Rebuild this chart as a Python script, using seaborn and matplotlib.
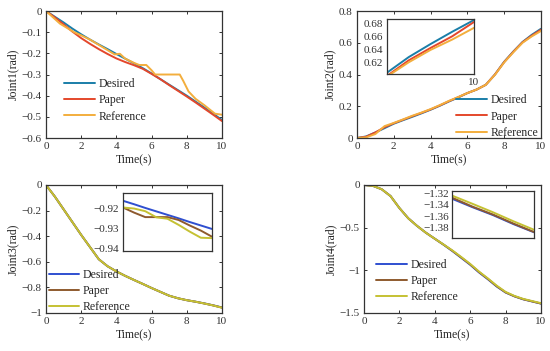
import numpy as np
import matplotlib
matplotlib.use("Agg")
import matplotlib.pyplot as plt
import seaborn as sns

# time grid shared by most series
t = [0, 0.5, 1, 1.5, 2, 2.5, 3, 3.5, 4, 4.5, 5, 5.5, 6, 6.5, 7, 7.5, 8, 8.5, 9, 9.5, 10]

# Joint1
j1_desired = [0, -0.027, -0.054, -0.083, -0.11, -0.135, -0.158, -0.18, -0.203, -0.225, -0.247,
              -0.27, -0.295, -0.322, -0.348, -0.374, -0.4, -0.428, -0.456, -0.485, -0.515]
j1_paper = [0, -0.03, -0.063, -0.097, -0.128, -0.155, -0.18, -0.203, -0.224, -0.241, -0.256,
            -0.273, -0.297, -0.322, -0.35, -0.377, -0.404, -0.432, -0.461, -0.49, -0.52]
t_j1_ref = [0, 0.4, 0.8, 1.2, 1.6, 2.0, 2.5, 3.0, 3.5, 3.9, 4.2, 4.5, 5.0, 5.3, 5.7, 6.0, 6.2,
            7.0, 7.6, 7.8, 8.1, 8.5, 9.0, 9.3, 9.6, 10]
j1_reference = [0, -0.03, -0.06, -0.08, -0.1, -0.115, -0.135, -0.16, -0.185, -0.205, -0.202,
                -0.225, -0.245, -0.255, -0.255, -0.28, -0.3, -0.3, -0.3, -0.33, -0.38, -0.415,
                -0.445, -0.465, -0.485, -0.49]

# Joint2
j2_desired = [0, 0.01, 0.035, 0.062, 0.09, 0.112, 0.133, 0.155, 0.178, 0.203, 0.23,
              0.255, 0.283, 0.305, 0.335, 0.4, 0.48, 0.545, 0.605, 0.65, 0.688]
j2_paper = [0, 0.008, 0.035, 0.068, 0.093, 0.115, 0.137, 0.158, 0.18, 0.205, 0.232,
            0.257, 0.283, 0.305, 0.335, 0.4, 0.478, 0.543, 0.603, 0.645, 0.682]
j2_reference = [0, 0.004, 0.025, 0.075, 0.095, 0.117, 0.14, 0.16, 0.182, 0.207, 0.234,
                0.258, 0.283, 0.305, 0.335, 0.398, 0.476, 0.54, 0.6, 0.64, 0.674]
t_j2_zoom = [9.0, 9.25, 9.5, 9.75, 10.0]
j2_desired_zoom = [0.605, 0.629, 0.649, 0.668, 0.686]
j2_paper_zoom = [0.600, 0.624, 0.643, 0.661, 0.683]
j2_reference_zoom = [0.599, 0.621, 0.640, 0.656, 0.674]

# Joint3
j3_desired = [0, -0.09, -0.19, -0.29, -0.39, -0.485, -0.58, -0.635, -0.675, -0.71, -0.742,
              -0.773, -0.805, -0.835, -0.865, -0.885, -0.9, -0.912, -0.925, -0.94, -0.957]
j3_paper = [0, -0.09, -0.19, -0.29, -0.39, -0.485, -0.58, -0.635, -0.675, -0.71, -0.742,
            -0.773, -0.805, -0.835, -0.865, -0.885, -0.9, -0.912, -0.926, -0.941, -0.958]
j3_reference = [0, -0.09, -0.19, -0.29, -0.39, -0.485, -0.58, -0.635, -0.675, -0.71, -0.742,
                -0.773, -0.805, -0.835, -0.865, -0.885, -0.9, -0.912, -0.926, -0.941, -0.959]
t_j3_zoom = [9.0, 9.05, 9.1, 9.15, 9.2, 9.25, 9.3, 9.35, 9.4]
j3_desired_zoom = [-0.9164, -0.9181, -0.9199, -0.9216, -0.9233, -0.9250, -0.9268, -0.9285, -0.9302]
j3_paper_zoom = [-0.9197, -0.9222, -0.9244, -0.9244, -0.9244, -0.9258, -0.9285, -0.931, -0.934]
j3_reference_zoom = [-0.9197, -0.9202, -0.9215, -0.9245, -0.9252, -0.9282, -0.9315, -0.9345, -0.9347]

# Joint4
j4_desired = [0, -0.01, -0.05, -0.13, -0.27, -0.39, -0.48, -0.56, -0.63, -0.7, -0.775,
              -0.855, -0.935, -1.025, -1.105, -1.19, -1.26, -1.305, -1.34, -1.365, -1.39]
j4_paper = [0, -0.01, -0.05, -0.13, -0.27, -0.39, -0.48, -0.56, -0.63, -0.7, -0.772,
            -0.85, -0.93, -1.02, -1.1, -1.186, -1.258, -1.304, -1.339, -1.364, -1.389]
j4_reference = [0, -0.01, -0.05, -0.13, -0.27, -0.39, -0.48, -0.56, -0.63, -0.698, -0.768,
                -0.845, -0.925, -1.015, -1.095, -1.18, -1.253, -1.3, -1.335, -1.36, -1.385]
t_j4_zoom = [9.0, 9.25, 9.5, 9.75, 10.0]
j4_desired_zoom = [-1.329, -1.344, -1.358, -1.374, -1.3885]
j4_paper_zoom = [-1.327, -1.343, -1.357, -1.373, -1.388]
j4_reference_zoom = [-1.3234, -1.338, -1.353, -1.369, -1.384]

labels = ["Desired", "Paper", "Reference"]
colors_top = ["#1a7ea8", "#e4472b", "#f3ae3d"]
colors_bot = ["#2f4fd0", "#8e5a2e", "#c5c133"]

sns.set_style("ticks")
plt.rcParams["font.family"] = ["Liberation Serif", "DejaVu Serif"]
plt.rcParams["xtick.direction"] = "in"
plt.rcParams["ytick.direction"] = "in"
plt.rcParams["xtick.top"] = True
plt.rcParams["ytick.right"] = True
plt.rcParams["axes.edgecolor"] = "#333333"
plt.rcParams["axes.linewidth"] = 0.9

fig = plt.figure(figsize=(5.5, 3.51), dpi=100)
ax1 = fig.add_axes([0.0836, 0.6068, 0.32, 0.3618])
ax2 = fig.add_axes([0.649, 0.6068, 0.3345, 0.3618])
ax3 = fig.add_axes([0.0836, 0.1083, 0.32, 0.3647])
ax4 = fig.add_axes([0.6618, 0.1083, 0.3218, 0.3647])


def draw(ax, xs, series, colors, with_label=True):
    for x, y, c, lab in zip(xs, series, colors, labels):
        sns.lineplot(x=x, y=y, ax=ax, color=c, lw=1.4,
                     label=lab if with_label else None, legend=False)


def style(ax, ylabel, ylim, yticks):
    ax.set_xlim(0, 10)
    ax.set_ylim(*ylim)
    ax.set_xticks([0, 2, 4, 6, 8, 10])
    ax.set_yticks(yticks)
    ax.set_xlabel("Time(s)", fontsize=8.5, labelpad=2)
    ax.set_ylabel(ylabel, fontsize=8.5, labelpad=2)
    ax.tick_params(labelsize=8, length=2.5, width=0.7, pad=3, colors="#333333")
    for s in ax.spines.values():
        s.set_visible(True)


def legend(ax, loc, anchor):
    ax.legend(loc=loc, bbox_to_anchor=anchor, frameon=False, fontsize=8.5,
              handlelength=2.6, handletextpad=0.3, labelspacing=0.35, borderpad=0,
              borderaxespad=0)


# Joint1
draw(ax1, [t, t, t_j1_ref], [j1_desired, j1_paper, j1_reference], colors_top)
style(ax1, "Joint1(rad)", (-0.6, 0), np.arange(-0.6, 0.01, 0.1))
ax1.set_yticklabels(["−0.6", "−0.5", "−0.4", "−0.3", "−0.2", "−0.1", "0"])
legend(ax1, "upper left", (0.105, 0.47))

# Joint2
draw(ax2, [t, t, t], [j2_desired, j2_paper, j2_reference], colors_top)
style(ax2, "Joint2(rad)", (0, 0.8), [0, 0.2, 0.4, 0.6, 0.8])
ax2.set_yticklabels(["0", "0.2", "0.4", "0.6", "0.8"])
legend(ax2, "lower right", (0.985, -0.005))
in2 = fig.add_axes([0.7036, 0.7892, 0.1582, 0.1567])
draw(in2, [t_j2_zoom] * 3, [j2_desired_zoom, j2_paper_zoom, j2_reference_zoom],
     colors_top, with_label=False)
in2.set_xlim(9, 10)
in2.set_ylim(0.603, 0.6876)
in2.set_xticks([10])
in2.set_yticks([0.62, 0.64, 0.66, 0.68])
in2.set_yticklabels(["0.62", "0.64", "0.66", "0.68"])
in2.tick_params(labelsize=8, length=0, pad=3, colors="#333333")
in2.set_xlabel("")
in2.set_ylabel("")

# Joint3
draw(ax3, [t, t, t], [j3_desired, j3_paper, j3_reference], colors_bot)
style(ax3, "Joint3(rad)", (-1, 0), [-1, -0.8, -0.6, -0.4, -0.2, 0])
ax3.set_yticklabels(["−1", "−0.8", "−0.6", "−0.4", "−0.2", "0"])
legend(ax3, "lower left", (0.015, 0.0))
in3 = fig.add_axes([0.2236, 0.2849, 0.1618, 0.1652])
draw(in3, [t_j3_zoom] * 3, [j3_desired_zoom, j3_paper_zoom, j3_reference_zoom],
     colors_bot, with_label=False)
in3.set_xlim(9.0, 9.4)
in3.set_ylim(-0.941, -0.9126)
in3.set_xticks([])
in3.set_yticks([-0.94, -0.93, -0.92])
in3.set_yticklabels(["−0.94", "−0.93", "−0.92"])
in3.tick_params(labelsize=8, length=0, pad=3, colors="#333333")
in3.set_xlabel("")
in3.set_ylabel("")

# Joint4
draw(ax4, [t, t, t], [j4_desired, j4_paper, j4_reference], colors_bot)
style(ax4, "Joint4(rad)", (-1.5, 0), [-1.5, -1, -0.5, 0])
ax4.set_yticklabels(["−1.5", "−1", "−0.5", "0"])
legend(ax4, "lower left", (0.07, 0.075))
in4 = fig.add_axes([0.8218, 0.3219, 0.149, 0.1339])
draw(in4, [t_j4_zoom] * 3, [j4_desired_zoom, j4_paper_zoom, j4_reference_zoom],
     colors_bot, with_label=False)
in4.set_xlim(9, 10)
in4.set_ylim(-1.3987, -1.3153)
in4.set_xticks([])
in4.set_yticks([-1.38, -1.36, -1.34, -1.32])
in4.set_yticklabels(["−1.38", "−1.36", "−1.34", "−1.32"])
in4.tick_params(labelsize=8, length=0, pad=2, colors="#333333")
in4.set_xlabel("")
in4.set_ylabel("")

fig.savefig("out.png", dpi=100)
